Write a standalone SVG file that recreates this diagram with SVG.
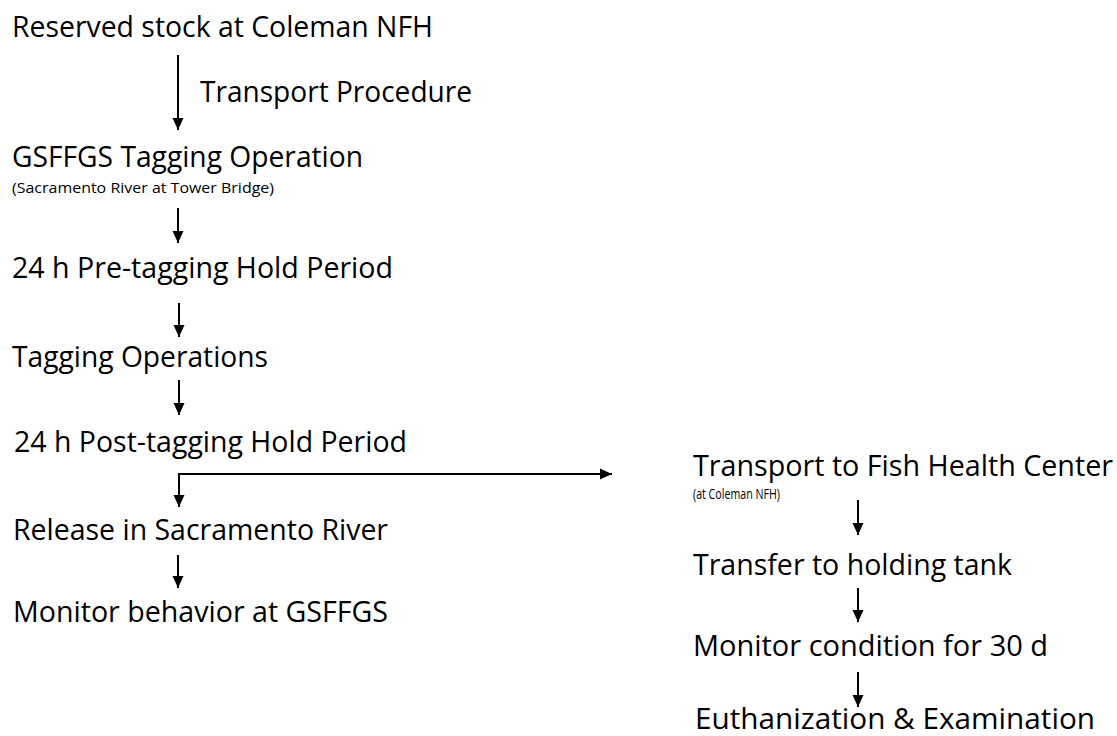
<svg xmlns="http://www.w3.org/2000/svg" width="1117" height="736" viewBox="0 0 1117 736">
<style>
.t{font-family:"Open Sans","Noto Sans","Liberation Sans",sans-serif;font-size:29px;fill:#000}
.s{font-family:"Open Sans","Noto Sans","Liberation Sans",sans-serif;font-size:15px;fill:#000}
.c{stroke:#000;stroke-width:2;fill:none}
</style>
<defs>
<marker id="ah" markerUnits="userSpaceOnUse" markerWidth="12" markerHeight="13" viewBox="0 0 12 13" refX="12" refY="6.5" orient="auto">
<path d="M0,1 L12,6.5 L0,12 z" fill="#000"/>
</marker>
</defs>
<rect width="1117" height="736" fill="#fff"/>
<g id="n1"><text class="t" x="12" y="37" textLength="421" lengthAdjust="spacingAndGlyphs">Reserved stock at Coleman NFH</text></g>
<g id="n2"><text class="t" x="12" y="167" textLength="351" lengthAdjust="spacingAndGlyphs">GSFFGS Tagging Operation</text>
<text class="s" x="12" y="193" textLength="262" lengthAdjust="spacingAndGlyphs">(Sacramento River at Tower Bridge)</text></g>
<g id="n3"><text class="t" x="12" y="278" textLength="381" lengthAdjust="spacingAndGlyphs">24 h Pre-tagging Hold Period</text></g>
<g id="n4"><text class="t" x="12" y="367" textLength="256" lengthAdjust="spacingAndGlyphs">Tagging Operations</text></g>
<g id="n5"><text class="t" x="14" y="452" textLength="393" lengthAdjust="spacingAndGlyphs">24 h Post-tagging Hold Period</text></g>
<g id="n6"><text class="t" x="13" y="540" textLength="375" lengthAdjust="spacingAndGlyphs">Release in Sacramento River</text></g>
<g id="n7"><text class="t" x="13" y="622" textLength="375" lengthAdjust="spacingAndGlyphs">Monitor behavior at GSFFGS</text></g>
<g id="n8"><text class="t" x="693" y="476" textLength="420" lengthAdjust="spacingAndGlyphs">Transport to Fish Health Center</text>
<text class="s" x="693" y="499" textLength="87" lengthAdjust="spacingAndGlyphs">(at Coleman NFH)</text></g>
<g id="n9"><text class="t" x="693" y="575" textLength="319" lengthAdjust="spacingAndGlyphs">Transfer to holding tank</text></g>
<g id="n10"><text class="t" x="693" y="656" textLength="355" lengthAdjust="spacingAndGlyphs">Monitor condition for 30 d</text></g>
<g id="n11"><text class="t" x="695" y="729" textLength="400" lengthAdjust="spacingAndGlyphs">Euthanization &amp; Examination</text></g>
<g id="connectors">
<line class="c" x1="178" y1="55" x2="178" y2="130" marker-end="url(#ah)"/>
<text class="t" x="200" y="102" textLength="272" lengthAdjust="spacingAndGlyphs">Transport Procedure</text>
<line class="c" x1="178" y1="208" x2="178" y2="243" marker-end="url(#ah)"/>
<line class="c" x1="179" y1="303" x2="179" y2="337" marker-end="url(#ah)"/>
<line class="c" x1="179" y1="380" x2="179" y2="415" marker-end="url(#ah)"/>
<path class="c" d="M179,474 V507" marker-end="url(#ah)"/>
<path class="c" d="M178,474 H612" marker-end="url(#ah)"/>
<line class="c" x1="178" y1="555" x2="178" y2="588" marker-end="url(#ah)"/>
<line class="c" x1="858" y1="500" x2="858" y2="535" marker-end="url(#ah)"/>
<line class="c" x1="858" y1="588" x2="858" y2="622" marker-end="url(#ah)"/>
<line class="c" x1="858" y1="672" x2="858" y2="707" marker-end="url(#ah)"/>
</g>
</svg>
